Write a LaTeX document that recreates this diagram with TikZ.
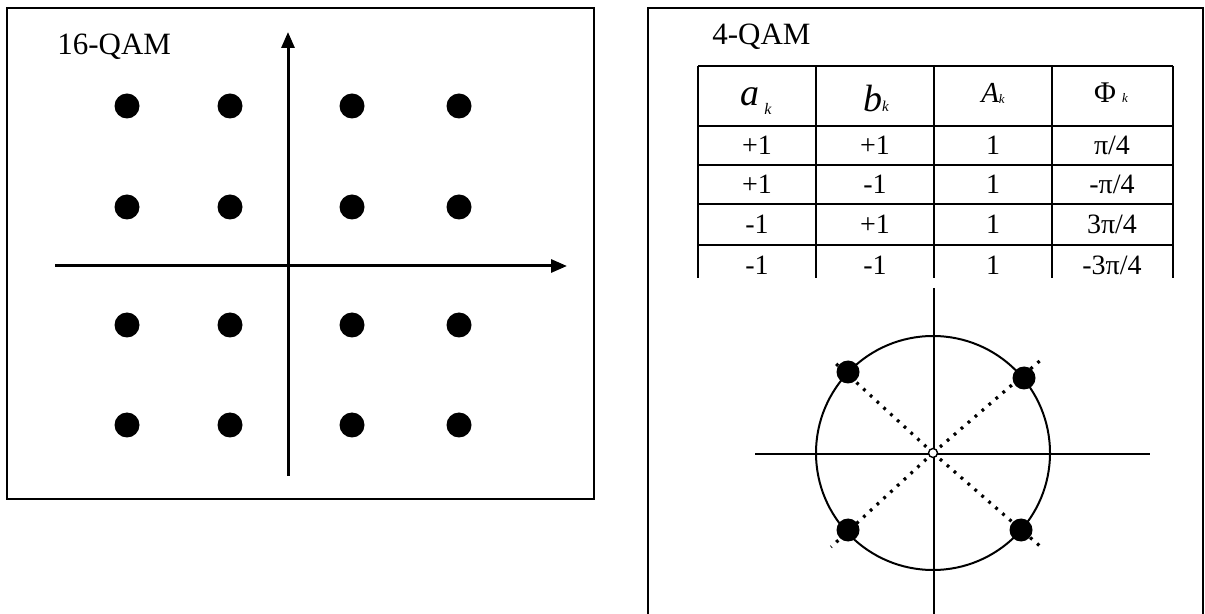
\documentclass[tikz,border=0pt]{standalone}
\usepackage{fontspec}
\setmainfont{Liberation Serif}
\usetikzlibrary{positioning,arrows.meta}

% small italic index k, lowered by #1, set at size #2
\newcommand{\subk}[2]{\raisebox{#1}{\fontsize{#2}{#2}\selectfont\itshape k}}

\begin{document}
\begin{tikzpicture}[
    x=0.5pt,y=-0.5pt,
    >={Triangle[length=8pt,width=6.5pt]},
    frame/.style={line width=1pt},
    axis/.style={->,line width=1.5pt},
    thinaxis/.style={line width=1pt},
    grid/.style={line width=1.1pt},
    pt16/.style={circle,fill=black,minimum size=12.5pt,inner sep=0pt},
    pt4/.style={circle,fill=black,minimum size=11.5pt,inner sep=0pt},
    ray/.style={line width=1.6pt,dash pattern=on 1.4pt off 3.2pt},
    title/.style={font=\fontsize{15.5}{18}\selectfont,anchor=base west,inner sep=0pt},
    hdr/.style={anchor=base,inner sep=0pt},
    cell/.style={font=\fontsize{14}{16}\selectfont,anchor=base,inner sep=0pt},
]
\useasboundingbox (0,0) rectangle (1205,614);

% =====================================================================
%  16-QAM constellation
% =====================================================================
\draw[frame] (7,8) rectangle (594,499);
\node[title] (t16) at (57,55) {16-QAM};

\coordinate (xl) at (55,266);
\coordinate (xr) at (567,266);
\coordinate (yb) at (288,476);
\coordinate (yt) at (288,32);
\draw[axis] (xl) -- (xr);
\draw[axis] (yb) -- (yt);

% 4 x 4 grid of symbols
\foreach \x [count=\i] in {127,230,352,459}
   \foreach \y [count=\j] in {106,207,325,425}
      \node[pt16] (q\i\j) at (\x,\y) {};

% =====================================================================
%  4-QAM table
% =====================================================================
\draw[frame] (648,614) -- (648,8) -- (1203,8) -- (1203,614);
\node[title] (t4) at (712,45) {4-QAM};

% grid is open at the bottom
\foreach \x in {698,816,934,1052,1173} \draw[grid] (\x,66) -- (\x,278);
\foreach \y in {66,126,165,204,245} \draw[grid] (698,\y) -- (1173,\y);

\node[hdr] (ha) at (756,106)
     {{\fontsize{19}{20}\selectfont\itshape a}\hspace{2.5pt}\subk{-4.5pt}{8}};
\node[hdr] (hb) at (876,112)
     {{\fontsize{19}{20}\selectfont\itshape b}\subk{0pt}{7.5}};
\node[hdr] (hA) at (993,103)
     {{\fontsize{14.5}{16}\selectfont\itshape A}\subk{-0.5pt}{6.5}};
\node[hdr] (hp) at (1111,103)
     {{\fontsize{15}{16}\selectfont Φ}\hspace{3pt}\subk{0pt}{6.5}};

\foreach \yb/\a/\b/\p [count=\r] in
      {155/+1/+1/{π/4}, 194/+1/-1/{-π/4}, 234/-1/+1/{3π/4}, 275/-1/-1/{-3π/4}}
{
   \node[cell] (va\r) at (757,\yb)  {\a};
   \node[cell] (vb\r) at (875,\yb)  {\b};
   \node[cell] (vA\r) at (993,\yb)  {1};
   \node[cell] (vp\r) at (1112,\yb) {\p};
}

% =====================================================================
%  4-QAM constellation
% =====================================================================
\coordinate (c) at (933,453);
\coordinate (hl) at (755,454);
\coordinate (hr) at (1150,454);
\coordinate (vt) at (934,288);
\coordinate (vb) at (934,614);
\draw[thinaxis] (hl) -- (hr);
\draw[thinaxis] (vt) -- (vb);
\draw[line width=1pt] (c) circle[radius=117];

% dotted rays run a little past each symbol
\coordinate (e1) at (1042,359);
\coordinate (e2) at (832,360);
\coordinate (e3) at (831,547);
\coordinate (e4) at (1041,547);
\foreach \i in {1,...,4} \draw[ray] (c) -- (e\i);

\node[pt4] (d1) at (1024,378) {};
\node[pt4] (d2) at (848,372) {};
\node[pt4] (d3) at (848,530) {};
\node[pt4] (d4) at (1021,530) {};

\node[circle,draw,fill=white,line width=0.7pt,inner sep=0pt,minimum size=4.5pt]
     (o) at (c) {};

\end{tikzpicture}
\end{document}
